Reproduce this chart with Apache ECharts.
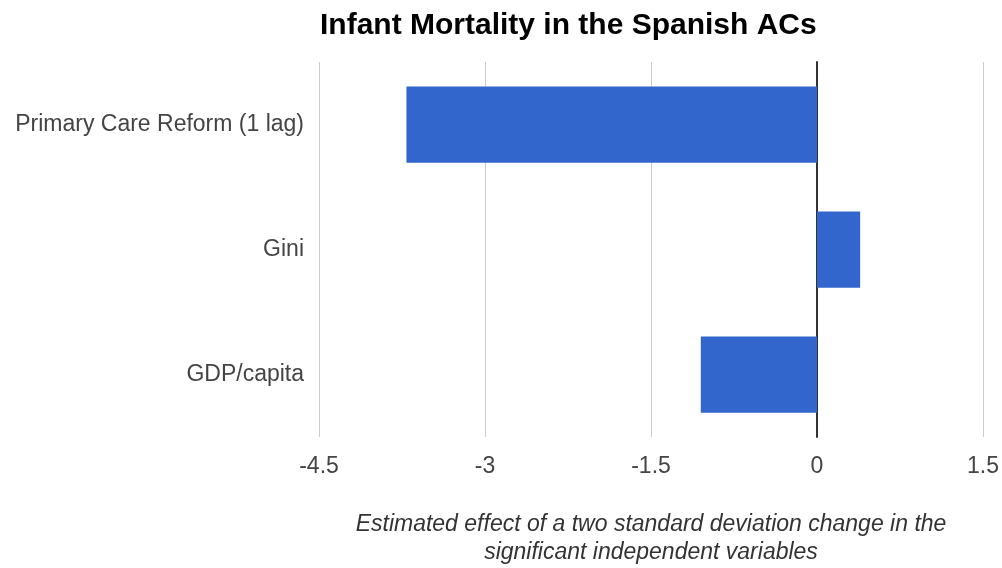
<!DOCTYPE html>
<html>
<head>
<meta charset="utf-8">
<script src="https://cdn.jsdelivr.net/npm/echarts@6/dist/echarts.min.js"></script>
<style>html,body{margin:0;padding:0;background:#fff}#c{width:1002px;height:568px}</style>
</head>
<body>
<div id="c"></div>
<script>
const titleText = 'Infant Mortality in the Spanish ACs';
const categories = ['Primary Care Reform (1 lag)', 'Gini', 'GDP/capita'];
const effects = [-3.71, 0.39, -1.05];
const xTicks = [-4.5, -3, -1.5, 0, 1.5];
const xAxisTitle = 'Estimated effect of a two standard deviation change in the\nsignificant independent variables';
const FONT = '"Liberation Sans", Arial, sans-serif';

const chart = echarts.init(document.getElementById('c'), null, {renderer: 'canvas'});
chart.setOption({
  animation: false,
  backgroundColor: '#ffffff',
  title: {
    text: titleText,
    left: 315,
    top: 6,
    textStyle: {fontFamily: FONT, fontWeight: 'bold', fontSize: 30, color: '#000'}
  },
  grid: {left: 319, right: 19, top: 62, bottom: 131, containLabel: false, outerBoundsMode: 'none'},
  xAxis: {
    type: 'value',
    min: xTicks[0],
    max: xTicks[xTicks.length - 1],
    interval: 1.5,
    axisLine: {show: false},
    axisTick: {show: false},
    splitLine: {show: true, lineStyle: {color: '#cccccc', width: 1}},
    axisLabel: {
      margin: 18,
      fontFamily: FONT,
      fontSize: 23,
      color: '#444',
      formatter: v => String(v)
    },
    name: xAxisTitle,
    nameLocation: 'middle',
    nameGap: 74,
    nameTextStyle: {
      fontFamily: FONT,
      fontStyle: 'italic',
      fontSize: 23,
      lineHeight: 28,
      color: '#333',
      verticalAlign: 'top'
    }
  },
  yAxis: {
    type: 'category',
    data: categories,
    inverse: true,
    axisLine: {show: true, onZero: true, lineStyle: {color: '#333', width: 2}},
    axisTick: {show: false},
    splitLine: {show: false},
    axisLabel: {
      margin: 15,
      fontFamily: FONT,
      fontSize: 23,
      color: '#444',
      padding: [3, 0, 0, 0]
    }
  },
  series: [{
    type: 'bar',
    data: effects,
    barWidth: '61%',
    itemStyle: {color: '#3366cc'},
    z: 1
  }]
});
</script>
</body>
</html>
